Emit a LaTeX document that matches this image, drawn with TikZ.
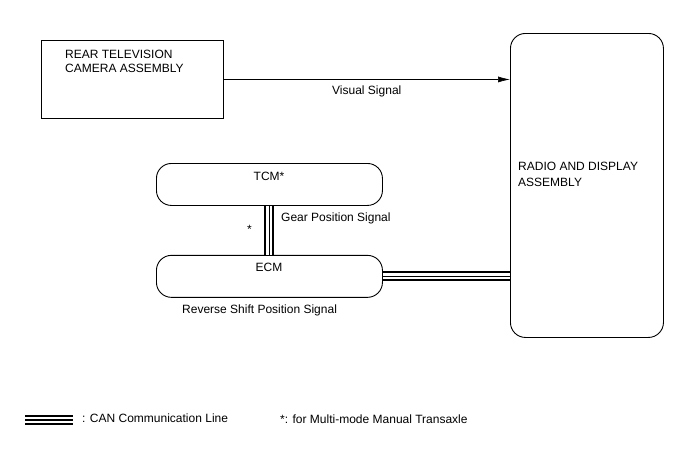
\documentclass[tikz,border=0pt]{standalone}
\usepackage{fontspec}
\setmainfont{Liberation Sans}
\usetikzlibrary{arrows.meta,positioning}

\begin{document}
\begin{tikzpicture}[x=1pt, y=-1pt, >=Latex, font=\fontsize{12}{14}\selectfont,
  unit/.style={draw, line width=0.9pt, fill=white, inner sep=0pt},
  module/.style={unit, rounded corners=15pt, minimum width=226pt, minimum height=42pt},
  txt/.style={inner sep=0pt, anchor=base west},
  canline/.style={line width=1.2pt, preaction={draw, line width=10pt}, preaction={draw, white, line width=6pt}}]
\useasboundingbox (0,0) rectangle (688,463);

% Units
\node(camera)[unit, minimum width=182pt, minimum height=78pt, anchor=north west] at (41,40) {};
\node(radio)[unit, rounded corners=15pt, minimum width=153pt, minimum height=304pt, anchor=north west] at (510,33) {};
\node(tcm)[module, anchor=north west] at (156,163) {};
\node(ecm)[module, below=49pt of tcm] {};

% Unit names
\node(cameraname1)[txt] at (65,58) {REAR TELEVISION};
\node(cameraname2)[txt] at (65,72) {CAMERA ASSEMBLY};
\node(radioname1)[txt] at (518,170) {RADIO AND DISPLAY};
\node(radioname2)[txt] at (518,186) {ASSEMBLY};
\node(tcmname)[txt, anchor=base] at (269,180) {TCM*};
\node(ecmname)[txt, anchor=base] at (269,271) {ECM};

% Lines
\draw[->, line width=0.6pt, >={Latex[length=12pt,width=6pt]}] (camera.east) -- (camera.east -| radio.west);
\draw[canline] (tcm.south) -- (ecm.north);
\draw[canline] (ecm.east) -- (ecm.east -| radio.west);

% Signals
\node(visual)[txt] at (332,94) {Visual Signal};
\node(gear)[txt] at (281,221) {Gear Position Signal};
\node(star)[txt] at (247,233) {*};
\node(reverse)[txt] at (182,313) {Reverse Shift Position Signal};

% Legend
\coordinate(legA) at (25,420);
\coordinate(legB) at (73,420);
\draw[canline] (legA) -- (legB);
\node(legcan)[txt] at (82,422) {: CAN Communication Line};
\node(legstar)[txt] at (280,423) {*: for Multi-mode Manual Transaxle};
\end{tikzpicture}
\end{document}
